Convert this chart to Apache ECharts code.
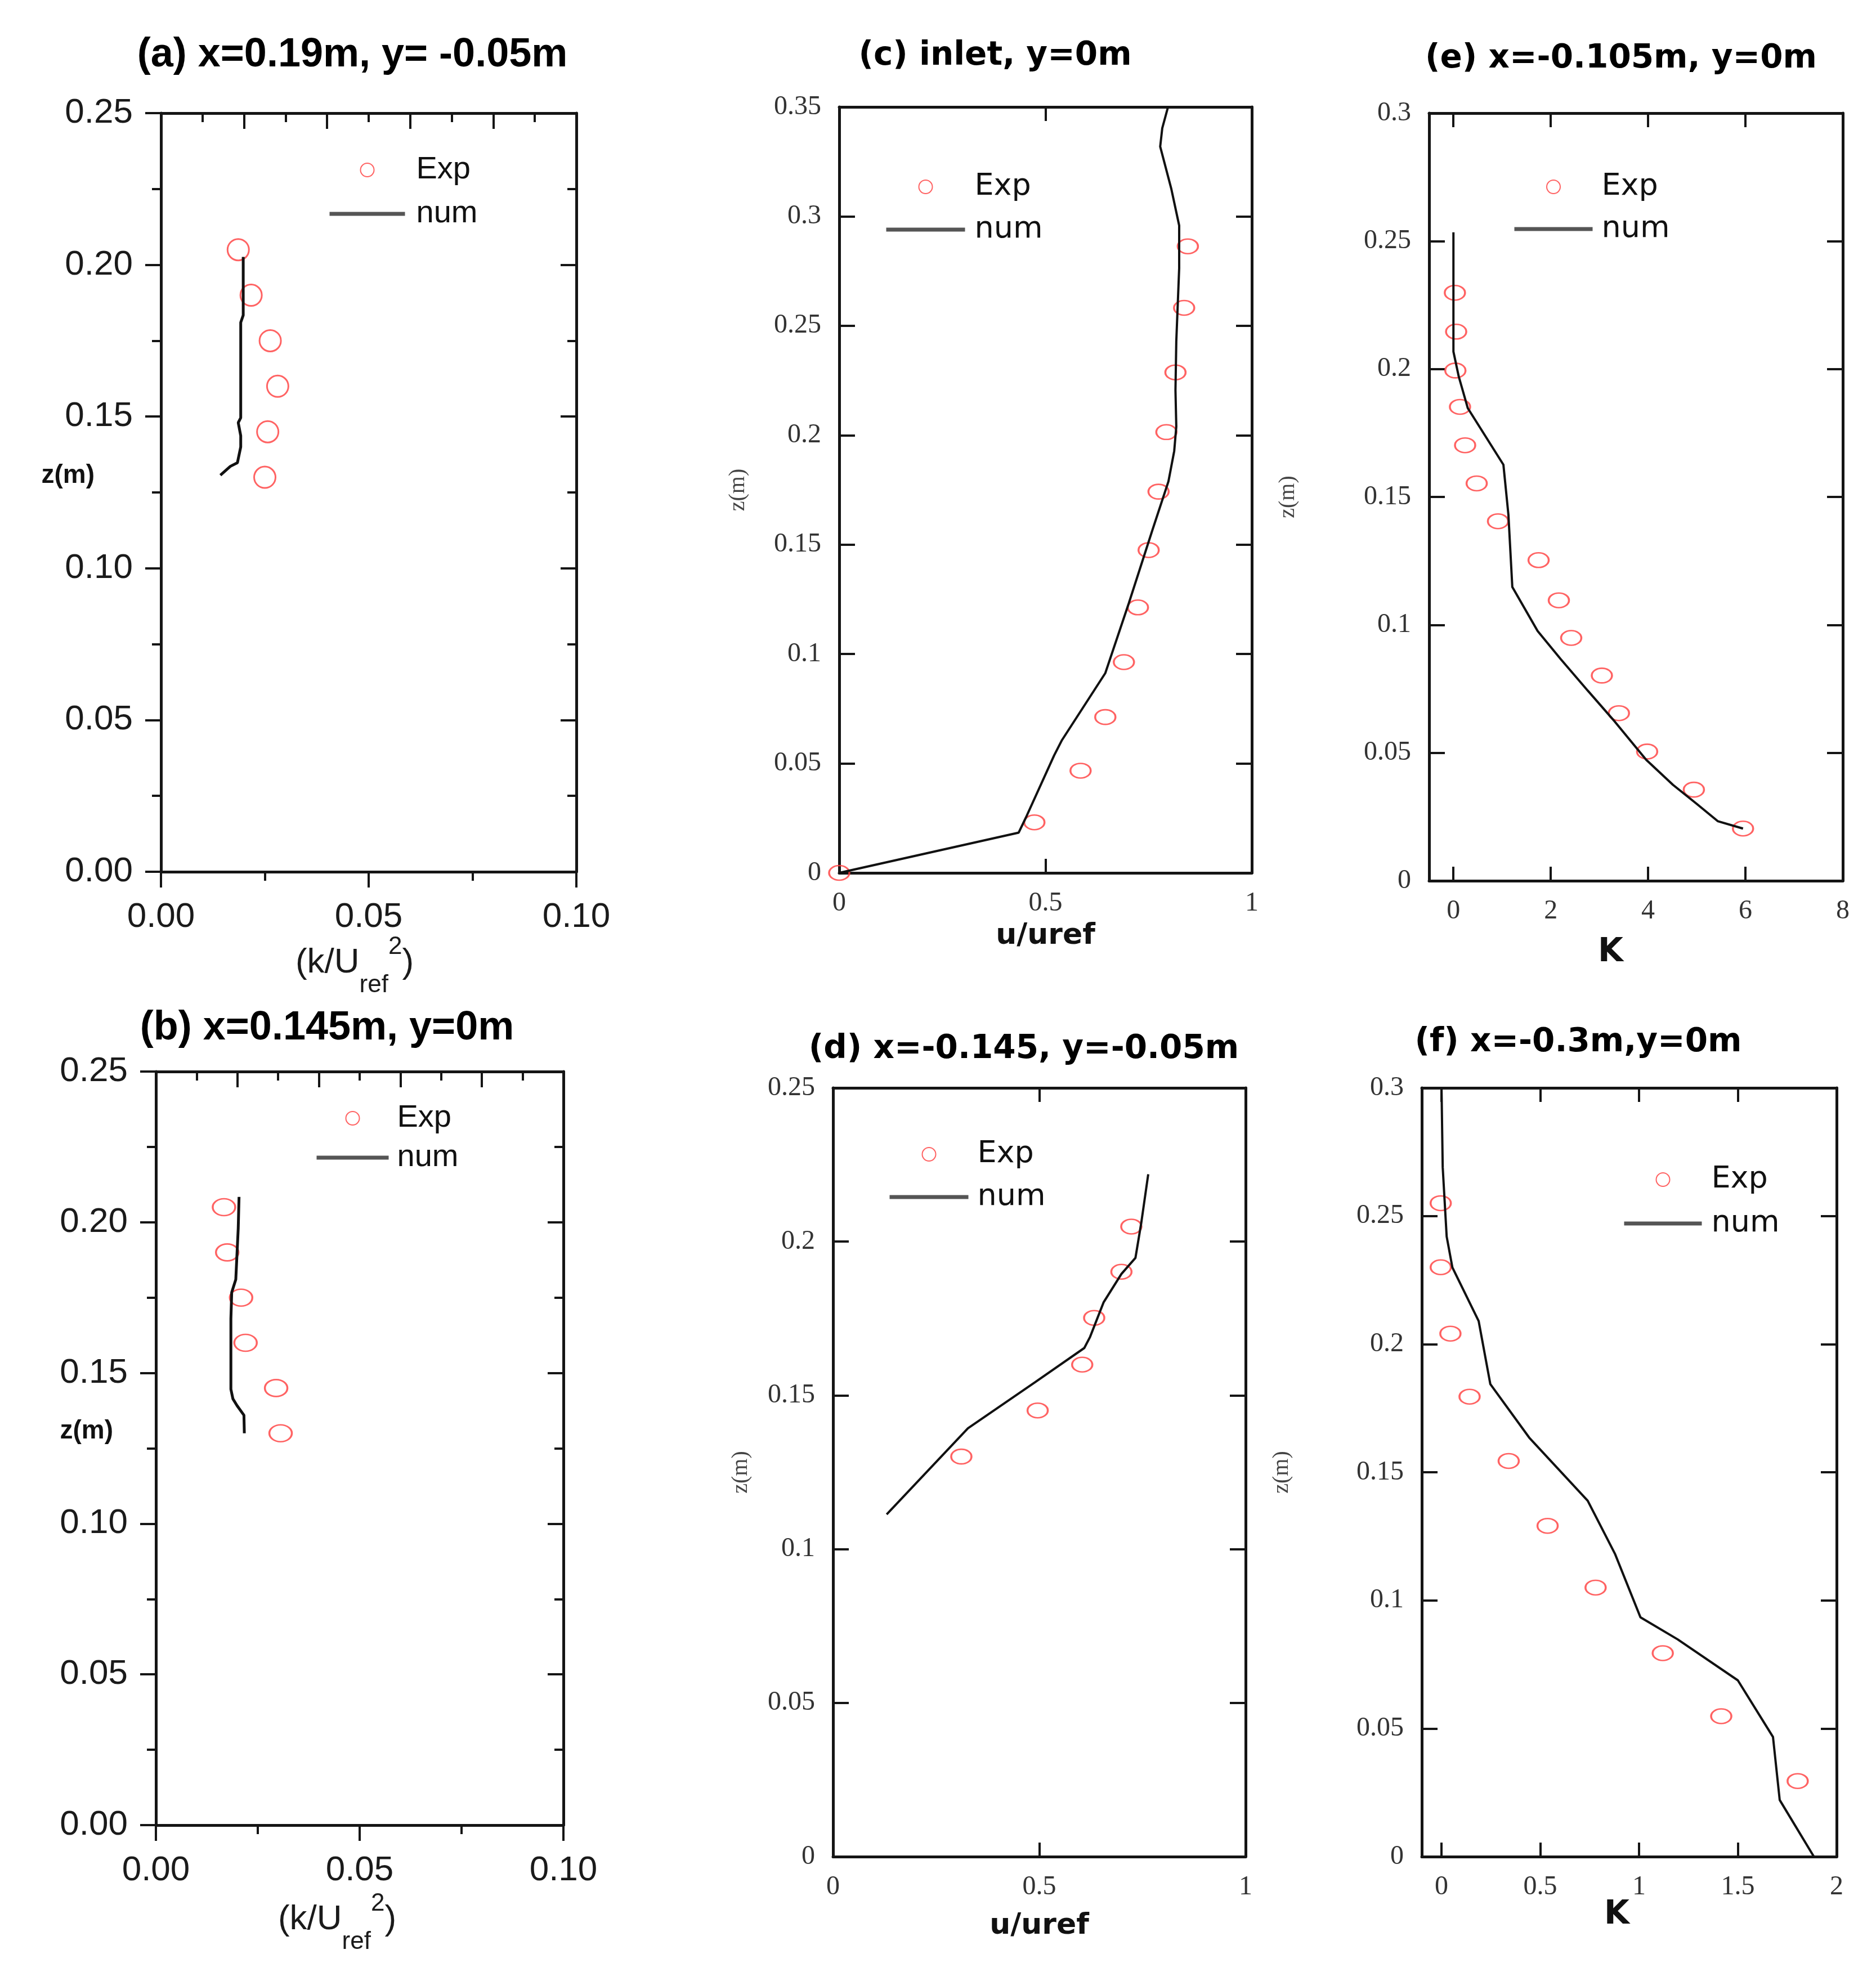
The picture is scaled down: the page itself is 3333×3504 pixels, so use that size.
<!DOCTYPE html>
<html>
<head>
<meta charset="utf-8">
<script src="https://cdn.jsdelivr.net/npm/echarts@6/dist/echarts.min.js"></script>
<style>
html, body { margin: 0; padding: 0; background: #fff; }
#chart { width: 3333px; height: 3504px; }
</style>
</head>
<body>
<div id="chart"></div>
<script>
// points are [x value, z (m)]
// (a) x=0.19m, y=-0.05m : k/Uref^2
const expA = [[0.0186,0.205],[0.0217,0.19],[0.0263,0.175],[0.0281,0.16],[0.0257,0.145],[0.0250,0.13]]
const numA = [[0.0198,0.2026],[0.0198,0.1834],[0.0192,0.181],[0.0192,0.1496],[0.0186,0.148],[0.0192,0.1437],[0.0192,0.140],[0.0184,0.1348],[0.0167,0.1336],[0.0143,0.1307]]
// (b) x=0.145m, y=0m : k/Uref^2
const expB = [[0.0167,0.205],[0.0175,0.19],[0.0209,0.175],[0.022,0.16],[0.0295,0.145],[0.0306,0.13]]
const numB = [[0.0204,0.2084],[0.0202,0.198],[0.0196,0.181],[0.0186,0.1767],[0.0184,0.168],[0.0184,0.1446],[0.0189,0.1414],[0.0199,0.1392],[0.0216,0.136],[0.0217,0.130]]
// (c) inlet : u/uref
const expC = [[0,0],[0.473,0.0231],[0.585,0.0467],[0.645,0.0712],[0.690,0.0963],[0.724,0.1213],[0.750,0.1475],[0.774,0.1742],[0.793,0.2014],[0.815,0.2287],[0.836,0.2582],[0.845,0.2863]]
const numC = [[0,0],[0.435,0.0184],[0.454,0.0259],[0.521,0.0537],[0.540,0.0607],[0.645,0.0913],[0.702,0.1233],[0.759,0.1566],[0.798,0.1789],[0.812,0.1928],[0.817,0.2039],[0.815,0.2206],[0.817,0.2429],[0.824,0.2763],[0.824,0.2958],[0.805,0.3125],[0.778,0.3319],[0.783,0.3403],[0.797,0.35]]
// (d) x=-0.145, y=-0.05m : u/uref
const expD = [[0.311,0.1301],[0.496,0.1451],[0.604,0.160],[0.633,0.1752],[0.699,0.1902],[0.723,0.2049]]
const numD = [[0.130,0.1113],[0.327,0.1393],[0.490,0.1543],[0.609,0.1654],[0.623,0.169],[0.656,0.1803],[0.699,0.1895],[0.733,0.1947],[0.747,0.206],[0.764,0.2219]]
// (e) x=-0.105m, y=0m : K
const expE = [[0.03,0.2298],[0.056,0.2146],[0.04,0.1994],[0.135,0.1852],[0.24,0.1702],[0.478,0.1553],[0.916,0.1405],[1.75,0.1253],[2.166,0.1096],[2.42,0.0949],[3.05,0.0802],[3.40,0.0655],[3.98,0.0505],[4.94,0.0356],[5.95,0.0204]]
const numE = [[0,0.2534],[0,0.2068],[0.11,0.197],[0.295,0.1847],[1.027,0.1626],[1.13,0.143],[1.21,0.1148],[1.73,0.0976],[2.205,0.0866],[2.76,0.0743],[3.32,0.0621],[3.96,0.0473],[4.51,0.0375],[4.99,0.0302],[5.43,0.0233],[5.95,0.0204]]
// (f) x=-0.3m, y=0m : K
const expF = [[-0.004,0.255],[-0.004,0.230],[0.045,0.2041],[0.142,0.1795],[0.34,0.1544],[0.537,0.1291],[0.78,0.105],[1.12,0.0794],[1.416,0.0548],[1.803,0.0295]]
const numF = [[0,0.3],[0.006,0.269],[0.026,0.242],[0.055,0.2299],[0.188,0.209],[0.247,0.1844],[0.444,0.1635],[0.74,0.1389],[0.879,0.118],[1.007,0.0934],[1.195,0.0848],[1.50,0.0688],[1.678,0.0467],[1.712,0.0221],[1.885,0]]

const titles = ['(a) x=0.19m, y= -0.05m', '(b) x=0.145m, y=0m', '(c) inlet, y=0m', '(d) x=-0.145, y=-0.05m', '(e) x=-0.105m, y=0m', '(f) x=-0.3m,y=0m']
const xTicksE = [0, 2, 4, 6, 8]
const xTicksF = [0, 0.5, 1, 1.5, 2]

const kName = '(k/U{sub|ref}{sup|2})'

const panels = [
    {exp: expA, num: numA, kind: 'k', grid: {left: 286, top: 201, width: 738, height: 1348},
     x: [0, 0.1], y: 0.25, title: [626, 98], legend: [577, 269, 134, 22, 15], xName: kName, xGap: 122, xPad: 50, zGap: 118, sym: 38},
    {exp: expB, num: numB, kind: 'k', grid: {left: 277, top: 1904, width: 724, height: 1339},
     x: [0, 0.1], y: 0.25, title: [581, 1827], legend: [554, 1954, 128, 14, 10], xName: kName, xGap: 128, xPad: 80, zGap: 76, sym: [40, 30]},
    {exp: expC, num: numC, kind: 'u', grid: {left: 1491, top: 190, width: 733, height: 1361},
     x: [0, 1], y: 0.35, title: [1768, 100], legend: [1566, 299, 140, 20, 12], xName: 'u/uref', xGap: 86, xPad: 0, zGap: 160, sym: [36, 26]},
    {exp: expD, num: numD, kind: 'u', grid: {left: 1480, top: 1933, width: 733, height: 1366},
     x: [0, 1], y: 0.25, title: [1819, 1865], legend: [1572, 2018, 140, 20, 11], xName: 'u/uref', xGap: 97, xPad: 0, zGap: 144, sym: [36, 26]},
    {exp: expE, num: numE, kind: 'K', grid: {left: 2539, top: 201, width: 735, height: 1364},
     x: [-0.5, 8], y: 0.3, ticks: xTicksE, title: [2880, 105], legend: [2682, 299, 139, 19, 11], xName: 'K', xGap: 99, xPad: 90, zGap: 231, sym: [36, 26]},
    {exp: expF, num: numF, kind: 'K', grid: {left: 2526, top: 1933, width: 737, height: 1366},
     x: [-0.1, 2], y: 0.3, ticks: xTicksF, title: [2804, 1853], legend: [2877, 2063, 138, 22, 12], xName: 'K', xGap: 75, xPad: 44, zGap: 229, sym: [36, 26]}
]

const frame = {show: true, onZero: false, lineStyle: {color: '#151515', width: 5}}
const tickLine = {color: '#151515', width: 4}

let grids = [], xAxes = [], yAxes = [], series = [], legends = [], graphics = []

panels.forEach(function (p, i) {
    grids.push(p.grid)
    let origin = p.kind === 'k'

    graphics.push({
        type: 'text', x: p.title[0], y: p.title[1],
        style: {
            text: titles[i], align: 'center', verticalAlign: 'middle', fill: '#000',
            fontFamily: origin ? 'Liberation Sans' : 'DejaVu Sans', fontWeight: 'bold', fontSize: origin ? 72 : 58
        }
    })

    if (origin) {
        let labelFont = {fontFamily: 'Liberation Sans', fontSize: 62, color: '#1a1a1a'}
        xAxes.push({
            type: 'value', gridIndex: i, position: 'bottom', min: 0, max: 0.1, interval: 0.05,
            axisLine: frame, splitLine: {show: false},
            axisTick: {show: true, inside: false, length: 28, lineStyle: tickLine},
            minorTick: {show: true, splitNumber: 2, length: 16, lineStyle: tickLine},
            axisLabel: Object.assign({margin: 50, formatter: function (v) { return v.toFixed(2) }}, labelFont),
            name: p.xName, nameLocation: 'middle', nameGap: p.xGap, nameMoveOverlap: false,
            nameTextStyle: {
                fontFamily: 'Liberation Sans', fontSize: 62, color: '#1a1a1a', lineHeight: 80,
                padding: [0, p.xPad, 0, 0],
                rich: {
                    sub: {fontFamily: 'Liberation Sans', fontSize: 44, color: '#1a1a1a', verticalAlign: 'bottom', lineHeight: 80, padding: [0, 0, -22, 0]},
                    sup: {fontFamily: 'Liberation Sans', fontSize: 44, color: '#1a1a1a', verticalAlign: 'top', lineHeight: 80, padding: [-10, 0, 0, 0]}
                }
            }
        })
        xAxes.push({
            type: 'value', gridIndex: i, position: 'top', min: 0, max: 0.1, interval: 0.02,
            axisLine: frame, splitLine: {show: false}, axisLabel: {show: false},
            axisTick: {show: true, inside: true, length: 28, lineStyle: tickLine},
            minorTick: {show: true, splitNumber: 2, length: 16, lineStyle: tickLine}
        })
        yAxes.push({
            type: 'value', gridIndex: i, position: 'left', min: 0, max: p.y, interval: 0.05,
            axisLine: frame, splitLine: {show: false},
            axisTick: {show: true, inside: false, length: 28, lineStyle: tickLine},
            minorTick: {show: true, splitNumber: 2, length: 16, lineStyle: tickLine},
            axisLabel: Object.assign({margin: 50, formatter: function (v) { return v.toFixed(2) }}, labelFont),
            name: 'z(m)', nameLocation: 'middle', nameRotate: 0, nameGap: p.zGap, nameMoveOverlap: false,
            nameTextStyle: {fontFamily: 'Liberation Sans', fontWeight: 'bold', fontSize: 46, color: '#111', verticalAlign: 'bottom', lineHeight: 60}
        })
        yAxes.push({
            type: 'value', gridIndex: i, position: 'right', min: 0, max: p.y, interval: 0.05,
            axisLine: frame, splitLine: {show: false}, axisLabel: {show: false},
            axisTick: {show: true, inside: true, length: 28, lineStyle: tickLine},
            minorTick: {show: true, splitNumber: 2, length: 16, lineStyle: tickLine}
        })
    } else {
        let labelFont = {fontFamily: 'Liberation Serif', fontSize: 48, color: '#333'}
        let xb = {
            type: 'value', gridIndex: i, position: 'bottom', min: p.x[0], max: p.x[1],
            axisLine: frame, splitLine: {show: false},
            axisTick: {show: true, inside: true, length: 25, lineStyle: tickLine},
            axisLabel: Object.assign({margin: 30}, labelFont),
            name: p.xName, nameLocation: 'middle', nameGap: p.xGap, nameMoveOverlap: false,
            nameTextStyle: {fontFamily: 'DejaVu Sans', fontWeight: 'bold', fontSize: p.kind === 'K' ? 58 : 52, color: '#111', padding: [0, p.xPad, 0, 0]}
        }
        let xt = {
            type: 'value', gridIndex: i, position: 'top', min: p.x[0], max: p.x[1],
            axisLine: frame, splitLine: {show: false}, axisLabel: {show: false},
            axisTick: {show: true, inside: true, length: 25, lineStyle: tickLine}
        }
        if (p.ticks) {
            xb.axisTick.customValues = p.ticks
            xb.axisLabel.customValues = p.ticks
            xt.axisTick.customValues = p.ticks
        } else {
            xb.interval = 0.5
            xt.interval = 0.5
        }
        xAxes.push(xb, xt)
        yAxes.push({
            type: 'value', gridIndex: i, position: 'left', min: 0, max: p.y, interval: 0.05,
            axisLine: frame, splitLine: {show: false},
            axisTick: {show: true, inside: true, length: 28, lineStyle: tickLine},
            axisLabel: Object.assign({margin: 32}, labelFont),
            name: 'z(m)', nameLocation: 'middle', nameGap: p.zGap, nameMoveOverlap: false,
            nameTextStyle: {fontFamily: 'Liberation Serif', fontSize: 40, color: '#444'}
        })
        yAxes.push({
            type: 'value', gridIndex: i, position: 'right', min: 0, max: p.y, interval: 0.05,
            axisLine: frame, splitLine: {show: false}, axisLabel: {show: false},
            axisTick: {show: true, inside: true, length: 28, lineStyle: tickLine}
        })
    }

    series.push({
        name: 'num', type: 'line', xAxisIndex: 2 * i, yAxisIndex: 2 * i,
        data: p.num, symbol: 'none', clip: true,
        lineStyle: {color: '#111', width: origin ? 5 : 4},
        itemStyle: {color: 'rgba(0,0,0,0)', borderWidth: 0}
    })
    series.push({
        name: 'Exp', type: 'scatter', xAxisIndex: 2 * i, yAxisIndex: 2 * i,
        data: p.exp, symbol: 'circle', symbolSize: p.sym,
        itemStyle: {color: 'rgba(255,255,255,0)', borderColor: '#ff3c3c', borderWidth: 3}
    })

    legends.push({
        orient: 'vertical', left: p.legend[0], top: p.legend[1],
        itemWidth: p.legend[2], itemHeight: 24, itemGap: p.legend[3],
        data: [
            {name: 'Exp', icon: 'circle'},
            {name: 'num', lineStyle: {color: '#555', width: 7}, itemStyle: {opacity: 0}}
        ],
        selectedMode: false,
        textStyle: {
            fontFamily: origin ? 'Liberation Sans' : 'DejaVu Sans', fontSize: origin ? 56 : 54,
            lineHeight: 56, color: '#111', padding: [0, 0, 0, p.legend[4]]
        }
    })
})

const option = {
    backgroundColor: '#fff',
    animation: false,
    grid: grids,
    xAxis: xAxes,
    yAxis: yAxes,
    legend: legends,
    graphic: graphics,
    series: series
}

const myChart = echarts.init(document.getElementById('chart'))
myChart.setOption(option)
</script>
</body>
</html>
